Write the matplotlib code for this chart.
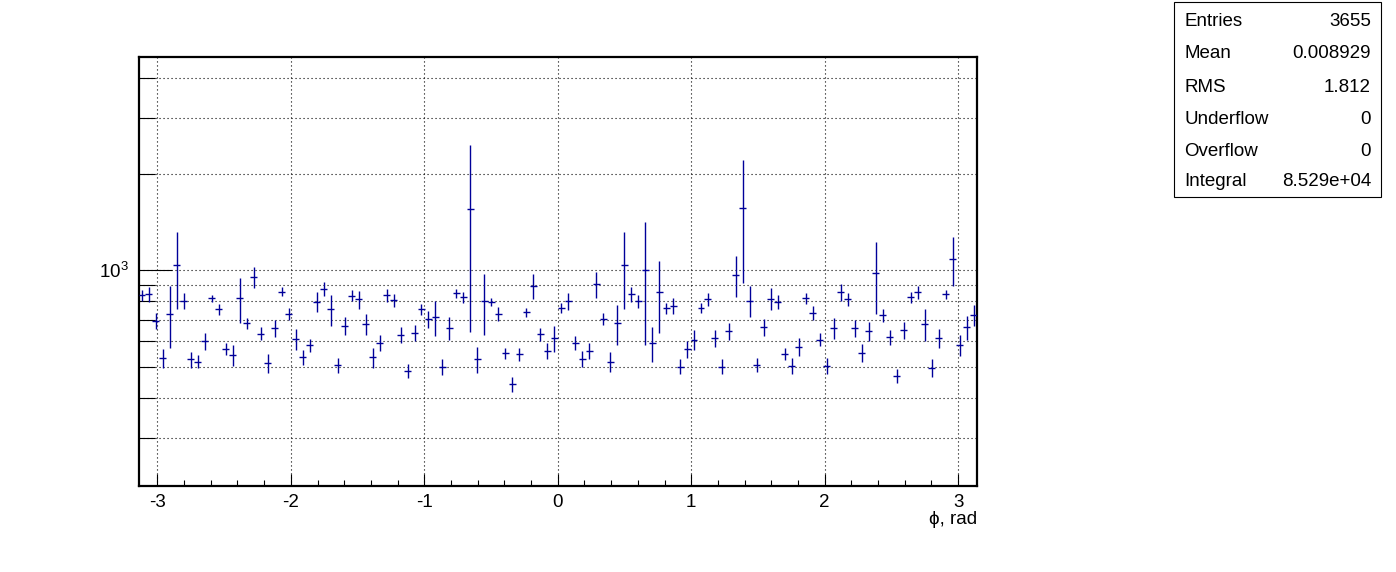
import numpy as np
import matplotlib
matplotlib.use("Agg")
import matplotlib.pyplot as plt
from matplotlib.ticker import FixedLocator, NullFormatter, FixedFormatter
from matplotlib.patches import Rectangle

plt.rcParams['font.family'] = ['Liberation Sans', 'DejaVu Sans']
plt.rcParams['mathtext.fontset'] = 'custom'
plt.rcParams['mathtext.rm'] = 'Liberation Sans'
plt.rcParams['axes.unicode_minus'] = False

# 120 bins in phi from -pi to pi
nbins = 120
counts = [837, 841, 695, 531, 731, 1037, 802, 527, 519, 600,
          818, 755, 568, 544, 818, 683, 953, 634, 512, 659,
          858, 731, 611, 535, 583, 796, 875, 755, 506, 670,
          834, 812, 680, 535, 594, 837, 806, 628, 485, 638,
          755, 703, 713, 500, 659, 847, 823, 1552, 527, 800,
          796, 731, 550, 442, 546, 739, 893, 632, 560, 613,
          761, 802, 594, 528, 561, 904, 706, 519, 683, 1037,
          841, 800, 1002, 591, 854, 761, 774, 500, 567, 608,
          761, 812, 613, 500, 645, 965, 1563, 804, 506, 664,
          816, 798, 548, 504, 577, 818, 738, 608, 504, 659,
          856, 812, 659, 553, 646, 979, 725, 618, 469, 651,
          823, 854, 680, 497, 613, 841, 1085, 584, 664, 725]
errors = [33, 47, 40, 35, 160, 280, 46, 30, 25, 37,
          22, 28, 25, 40, 131, 25, 72, 30, 35, 42,
          28, 33, 47, 29, 28, 57, 42, 83, 28, 44,
          33, 52, 51, 38, 35, 40, 37, 37, 25, 37,
          28, 43, 90, 30, 55, 30, 32, 910, 50, 173,
          22, 35, 23, 24, 25, 22, 80, 30, 33, 57,
          27, 48, 31, 30, 32, 83, 32, 38, 98, 280,
          44, 36, 418, 74, 218, 32, 44, 27, 34, 44,
          27, 40, 37, 27, 38, 140, 650, 88, 25, 40,
          63, 40, 25, 30, 38, 33, 37, 28, 30, 49,
          51, 38, 40, 35, 45, 250, 35, 33, 23, 40,
          32, 42, 80, 33, 42, 28, 190, 44, 57, 56]

stat_names = ["Entries", "Mean", "RMS", "Underflow", "Overflow", "Integral"]
stat_values = ["3655", "0.008929", "1.812", "0", "0", "8.529e+04"]

edges = np.linspace(-np.pi, np.pi, nbins + 1)
centers = 0.5 * (edges[1:] + edges[:-1])
halfw = 0.5 * (edges[1] - edges[0])

W, H = 1396, 572
fig = plt.figure(figsize=(W / 100, H / 100), dpi=100)
ax = fig.add_axes([138.5 / W, 1 - 486 / H, (977 - 138.5) / W, (486 - 56.7) / H])

ax.errorbar(centers, counts, yerr=errors, xerr=halfw, fmt='none',
            ecolor='#000099', elinewidth=1.0, capsize=0, zorder=3)

ax.set_xlim(-np.pi, np.pi)
ax.set_yscale('log')
ax.set_ylim(212, 4650)

ax.xaxis.set_major_locator(FixedLocator([-3, -2, -1, 0, 1, 2, 3]))
ax.xaxis.set_minor_locator(FixedLocator(np.arange(-3.0, 3.01, 0.2)))
ax.yaxis.set_major_locator(FixedLocator([1000]))
ax.yaxis.set_major_formatter(FixedFormatter([r'$\mathregular{10^{3}}$']))
ax.yaxis.set_minor_locator(FixedLocator([300, 400, 500, 600, 700, 800, 900, 2000, 3000, 4000]))
ax.yaxis.set_minor_formatter(NullFormatter())

ax.tick_params(which='both', direction='in', top=False, right=False, width=0.8, labelsize=13.5)
ax.tick_params(axis='x', which='major', length=9, pad=6)
ax.tick_params(axis='x', which='minor', length=4)
ax.tick_params(axis='y', which='major', length=24, pad=7)
ax.tick_params(axis='y', which='minor', length=11.5)

grid_style = dict(color='black', linewidth=0.8, linestyle=(0, (1, 2.6)))
ax.grid(True, axis='x', which='major', **grid_style)
ax.grid(True, axis='y', which='both', **grid_style)
ax.set_axisbelow(True)

for sp in ax.spines.values():
    sp.set_linewidth(1.6)

fig.text(977 / W, 1 - 519 / H, "\u03d5, rad", ha='right', va='center', fontsize=13.5)

# stats box
x0, x1, y0, y1 = 1174, 1381, 2, 197
fig.patches.append(Rectangle((x0 / W, 1 - y1 / H), (x1 - x0) / W, (y1 - y0) / H,
                             transform=fig.transFigure, facecolor='white',
                             edgecolor='black', linewidth=0.8))
row_y = [22, 54, 87, 119, 151, 181]
for name, val, yy in zip(stat_names, stat_values, row_y):
    fig.text(1184 / W, 1 - yy / H, name, ha='left', va='center', fontsize=13.5)
    fig.text(1371 / W, 1 - yy / H, val, ha='right', va='center', fontsize=13.5)

fig.savefig("out.png", dpi=100)
